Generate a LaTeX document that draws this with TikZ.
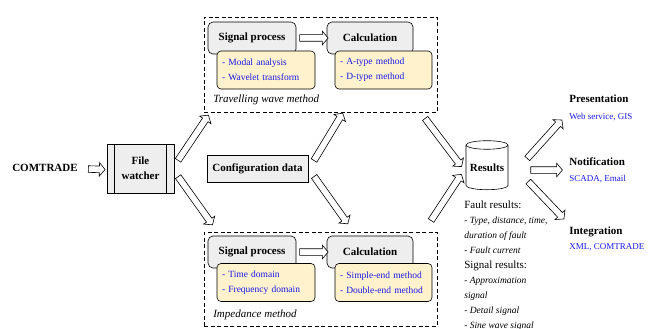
\documentclass[tikz,border=0pt]{standalone}
\usepackage{fontspec}
\setmainfont{Liberation Serif}
\usetikzlibrary{shapes.arrows,shapes.geometric,calc}

\definecolor{boxgray}{RGB}{238,238,238}
\definecolor{noteyellow}{RGB}{255,242,204}
\definecolor{listblue}{RGB}{25,25,235}

% hollow block arrow between two points
\newcommand{\barrow}[2]{%
  \path let \p1=(#1), \p2=(#2),
    \n1={atan2(\y2-\y1,\x2-\x1)}, \n2={veclen(\x2-\x1,\y2-\y1)} in
    node[fatarrow, minimum height=\n2, rotate=\n1] at ($(\p1)!0.5!(\p2)$) {};}

\begin{document}
\begin{tikzpicture}
			[x=1pt,y=-1pt,line width=0.6pt,
			 every node/.style={inner sep=0pt},
			 title/.style={font=\fontsize{11}{15}\selectfont\bfseries},
			 sub/.style={font=\fontsize{9}{11}\selectfont,text=listblue},
			 method/.style={font=\fontsize{11}{13}\selectfont\itshape},
			 grbox/.style={draw,fill=boxgray,rounded corners=5pt,minimum width=88pt,minimum height=32pt,title},
			 plainbox/.style={draw,fill=boxgray,title,align=center},
			 note/.style={draw,fill=noteyellow,rounded corners=4pt,text width=88pt,inner xsep=5pt,minimum height=38pt,align=left,font=\fontsize{9.5}{15}\selectfont,text=listblue},
			 group/.style={draw,dash pattern=on 4pt off 2.5pt,minimum width=233pt},
			 db/.style={cylinder,shape border rotate=90,draw,fill=white,aspect=0.25,minimum width=42pt,minimum height=49pt,title},
			 fatarrow/.style={single arrow,draw,fill=white,inner sep=3pt,single arrow head extend=3.5pt,single arrow tip angle=100,anchor=center}]
				\useasboundingbox (0,0) rectangle (658,329);
				% two method groups
				\node [group,minimum height=95pt] (up) at (320.5,64.5) {};
				\node [group,minimum height=94pt] (low) at (320.5,279) {};
				\node [method,anchor=west] (upl) at (213,100) {Travelling wave method};
				\node [method,anchor=west] (lowl) at (213,315) {Impedance method};
				\node [grbox] (sp1) at (252,38) {Signal process};
				\node [grbox,minimum width=86pt] (ca1) at (370,38) {Calculation};
				\node [note] (sn1) at (266,70) {- Modal analysis\\- Wavelet transform};
				\node [note,text width=87pt] (cn1) at (383.5,70) {- A-type method\\- D-type method};
				\node [grbox] (sp2) at (252,252) {Signal process};
				\node [grbox,minimum width=86pt] (ca2) at (370,252) {Calculation};
				\node [note] (sn2) at (266,282.5) {- Time domain\\- Frequency domain};
				\node [note,text width=87pt] (cn2) at (383.5,282.5) {- Simple-end method\\- Double-end method};
				% input side
				\node [title] (cmt) at (45,168) {COMTRADE};
				\node [plainbox,minimum width=67pt,minimum height=49pt] (fw) at (140.5,168.5) {File\\watcher};
				\draw ($(fw.north west)+(8,0)$) -- ($(fw.south west)+(8,0)$);
				\draw ($(fw.north east)+(-8,0)$) -- ($(fw.south east)+(-8,0)$);
				\node [plainbox,minimum width=101pt,minimum height=27pt] (cfg) at (257.5,168.5) {Configuration data};
				% results
				\node [db] (res) at (487,167.5) {Results};
				\node [anchor=north west,align=left,font=\fontsize{9.5}{15}\selectfont\itshape] (resl) at (464,201)
					{{\fontsize{11}{15}\selectfont\upshape Fault results:}\\
					 - Type, distance, time,\\ duration of fault\\ - Fault current\\
					 {\fontsize{11}{15}\selectfont\upshape Signal results:}\\
					 - Approximation\\ signal\\ - Detail signal\\ - Sine wave signal};
				% outputs
				\node [title,anchor=west] (pres) at (569,99) {Presentation};
				\node [sub,anchor=west] (presl) at (569,117) {Web service, GIS};
				\node [title,anchor=west] (notif) at (569,162) {Notification};
				\node [sub,anchor=west] (notifl) at (569,179) {SCADA, Email};
				\node [title,anchor=west] (integ) at (569,232) {Integration};
				\node [sub,anchor=west] (integl) at (569,247) {XML, COMTRADE};
				% block arrows
				\barrow{$(cmt.east)+(9,1)$}{$(fw.west)+(-3,1)$}
				\barrow{$(fw.east)+(3,-7)$}{$(up.south west)+(4,4)$}
				\barrow{$(fw.east)+(3,7)$}{$(low.north west)+(8,-8)$}
				\barrow{$(sp1.east)+(2,0)$}{ca1.west}
				\barrow{$(sp2.east)+(2,0)$}{ca2.west}
				\barrow{$(cfg.north east)+(5,7)$}{$(up.south)+(21.5,2)$}
				\barrow{$(cfg.south east)+(5,-7)$}{$(low.north)+(26.5,-9)$}
				\barrow{$(up.south east)+(-13,5)$}{$(res.west)+(-5,-2)$}
				\barrow{$(low.north east)+(-7,-10)$}{$(res.west)+(-5,8)$}
				\barrow{$(res.east)+(18,-8)$}{$(pres.west)+(-8,22)$}
				\barrow{$(res.east)+(21,2.5)$}{$(notif.west)+(-8,8)$}
				\barrow{$(res.east)+(19,13)$}{$(integ.west)+(-6,-14)$}
			\end{tikzpicture}
\end{document}
